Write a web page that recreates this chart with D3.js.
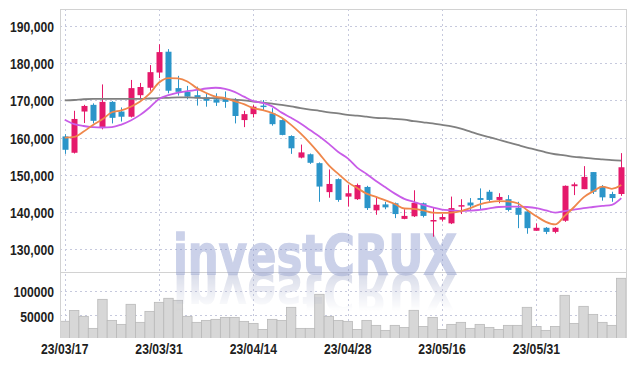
<!DOCTYPE html>
<html>
<head>
<meta charset="utf-8">
<script src="https://cdn.jsdelivr.net/npm/d3@7"></script>
<style>
  html, body { margin: 0; padding: 0; background: #fff; }
  .chart text { font-family: "Liberation Sans", Arial, sans-serif; }
</style>
</head>
<body>
<svg class="chart"></svg>
<script>
var dates = [
  "23/03/17","23/03/20","23/03/21","23/03/22","23/03/23","23/03/24","23/03/27","23/03/28","23/03/29","23/03/30",
  "23/03/31","23/04/03","23/04/04","23/04/05","23/04/06","23/04/07","23/04/10","23/04/11","23/04/12","23/04/13",
  "23/04/14","23/04/17","23/04/18","23/04/19","23/04/20","23/04/21","23/04/24","23/04/25","23/04/26","23/04/27",
  "23/04/28","23/05/02","23/05/03","23/05/04","23/05/08","23/05/09","23/05/10","23/05/11","23/05/12","23/05/15",
  "23/05/16","23/05/17","23/05/18","23/05/19","23/05/22","23/05/23","23/05/24","23/05/25","23/05/26","23/05/30",
  "23/05/31","23/06/01","23/06/02","23/06/05","23/06/07","23/06/08","23/06/09","23/06/12","23/06/13","23/06/14"
];
var opens = [
  160300,155900,167000,168800,162800,169600,167000,165600,171400,173400,
  177500,183100,173300,172300,171400,170800,170300,170300,170100,164700,
  166300,168600,166500,164700,160400,154600,155500,153100,145300,148800,
  144100,143400,146700,140400,142000,142300,138100,138800,142300,137400,
  137900,136900,141500,142500,143700,145400,143200,143400,141100,140100,
  134900,135700,134600,137600,146900,146100,150700,146800,144800,144800
];
var highs = [
  160900,167200,168800,169200,174300,169800,168100,175500,174700,179500,
  185100,183800,176600,173900,173700,171900,171900,172400,170600,167200,
  168800,170100,167900,164900,160600,158100,155700,153300,151400,149000,
  147200,147600,147000,144100,142700,142500,140700,145800,142500,141000,
  139400,144100,143400,143700,146300,145900,145000,144500,142700,140200,
  136900,135900,135900,147100,147900,152300,150700,147200,145400,155800
];
var lows = [
  155600,155700,163900,163800,162200,163800,164300,165400,170500,172600,
  176000,171900,171300,170300,168600,168300,168500,168000,163800,162800,
  165400,167400,163200,160600,155600,154400,152900,142700,143800,142700,
  141400,143200,140500,139200,140700,138300,138000,138600,138500,133300,
  137400,136700,139400,140500,140500,142700,142300,140100,135600,134100,
  134900,134000,134200,137300,144500,146100,144800,143000,142700,144300
];
var closes = [
  156700,165000,168500,164500,169600,165300,165600,173300,173600,177600,
  183000,172600,172300,171000,170600,169900,169400,169600,165800,166300,
  168300,168300,163600,160700,157100,156000,153200,146800,147500,143200,
  145000,147200,141000,141900,141200,139400,138900,142400,138900,137800,
  138600,141000,141800,141700,143200,143200,144000,140500,139200,135600,
  135700,134600,135700,147000,147400,149400,145400,143900,143700,152000
];
var volumes = [
  38000,60000,48000,23600,82500,39800,31700,72400,35800,58100,
  76400,84600,80500,48000,35800,39800,41900,45900,45900,37800,
  33700,21500,41900,39800,66300,23600,23600,92700,48000,39800,
  37800,21500,39800,29700,19500,29700,25600,60200,27600,45900,
  21500,31700,35800,23600,31700,25600,21500,29700,29700,66300,
  27600,19500,27600,90600,33700,68300,52000,35800,29700,125200
];
var ma5 = [
  160000,160200,161600,163400,164900,166800,167300,168300,169700,171800,
  174800,176000,175900,175100,173300,172000,171000,170600,169800,169000,
  167900,167400,166600,165300,163400,161100,158500,155600,152500,150200,
  148000,146400,144900,144000,143100,142100,140900,140800,140400,139800,
  139700,139800,140200,141000,142000,142600,142900,142800,142300,140500,
  138800,137300,136600,138900,141300,143900,145500,146800,146200,147200
];
var ma20 = [
  164800,163600,163100,162800,162700,162800,163500,164600,166100,168100,
  170400,171400,172100,172500,172800,173200,173400,173100,172300,171000,
  169800,169300,168400,166700,165300,163800,162000,160300,158300,156100,
  154400,151900,150200,148300,146600,144900,143500,142700,141900,141200,
  140600,140400,140200,140300,140500,140900,141300,141400,141400,141300,
  141000,140400,139800,140200,140600,141000,141300,141600,141900,143700
];
var ma60 = [
  170000,170100,170300,170400,170400,170400,170400,170400,170400,170500,
  170600,170700,170800,170800,170700,170600,170600,170400,170200,170000,
  169700,169400,169100,168800,168400,167900,167500,167200,166800,166500,
  166100,165900,165600,165300,165200,165000,164800,164400,164100,163800,
  163400,163000,162400,161600,160800,160100,159400,158700,158000,157300,
  156700,156000,155500,155200,154800,154600,154300,154100,153900,153800
];
var priceTicks = [130000, 140000, 150000, 160000, 170000, 180000, 190000];
var volTicks = [50000, 100000];
var dateTicks = ["23/03/17", "23/03/31", "23/04/14", "23/04/28", "23/05/16", "23/05/31"];

var W = 634, H = 366,
    plotL = 60, plotR = 626, plotT = 9, split = 272, plotB = 338;

var svg = d3.select(".chart").attr("width", W).attr("height", H);

var x = d3.scalePoint().domain(dates).range([plotL, plotR]).padding(0.5);
var step = x.step();
var y = d3.scaleLinear().domain([123800, 194600]).range([split, plotT]);
var yVol = d3.scaleLinear().domain([0, 140000]).range([340, 271]);

var upColor = "#e5196b", downColor = "#2b95c9";
var gridColor = "#c6c9dd";

var defs = svg.append("defs");
defs.append("clipPath").attr("id", "volClip")
    .append("rect").attr("x", plotL).attr("y", split).attr("width", plotR - plotL).attr("height", plotB - split);
var grad = defs.append("linearGradient").attr("id", "fade")
    .attr("x1", 0).attr("y1", 0).attr("x2", 0).attr("y2", 1);
grad.append("stop").attr("offset", "0%").attr("stop-color", "#fff").attr("stop-opacity", 0.85);
grad.append("stop").attr("offset", "100%").attr("stop-color", "#fff").attr("stop-opacity", 0);
defs.append("mask").attr("id", "fadeMask")
    .attr("maskUnits", "userSpaceOnUse")
    .attr("x", 0).attr("y", 272).attr("width", W).attr("height", 50)
    .append("rect").attr("x", 0).attr("y", 273).attr("width", W).attr("height", 38)
    .attr("fill", "url(#fade)");

// grid
var grid = svg.append("g");
grid.selectAll(".hg").data(priceTicks).enter().append("line")
    .attr("x1", plotL).attr("x2", plotR)
    .attr("y1", function (d) { return Math.round(y(d)) + 0.5; })
    .attr("y2", function (d) { return Math.round(y(d)) + 0.5; })
    .attr("stroke", gridColor).attr("stroke-dasharray", "2,3");
grid.selectAll(".vhg").data(volTicks).enter().append("line")
    .attr("x1", plotL).attr("x2", plotR)
    .attr("y1", function (d) { return Math.round(yVol(d)) + 0.5; })
    .attr("y2", function (d) { return Math.round(yVol(d)) + 0.5; })
    .attr("stroke", gridColor).attr("stroke-dasharray", "2,3");
grid.selectAll(".vg").data(dateTicks).enter().append("line")
    .attr("x1", function (d) { return Math.round(x(d)) + 0.5; })
    .attr("x2", function (d) { return Math.round(x(d)) + 0.5; })
    .attr("y1", plotT).attr("y2", plotB)
    .attr("stroke", gridColor).attr("stroke-dasharray", "2,3");

// volume bars
svg.append("g").attr("clip-path", "url(#volClip)")
    .selectAll("rect").data(volumes).enter().append("rect")
    .attr("x", function (d, i) { return x(dates[i]) - step / 2; })
    .attr("y", function (d) { return yVol(d); })
    .attr("width", step)
    .attr("height", function (d) { return yVol(0) - yVol(d); })
    .attr("fill", "#d7d7d7").attr("stroke", "#b9b9b9").attr("stroke-width", 0.8);

// frame
var frame = svg.append("g").attr("stroke", "#d2d2d2").attr("stroke-width", 1);
frame.append("line").attr("x1", plotL).attr("x2", plotR).attr("y1", plotT + 0.5).attr("y2", plotT + 0.5);
frame.append("line").attr("x1", plotL).attr("x2", plotR).attr("y1", split + 0.5).attr("y2", split + 0.5);
frame.append("line").attr("x1", plotL + 0.5).attr("x2", plotL + 0.5).attr("y1", plotT).attr("y2", plotB);
frame.append("line").attr("x1", plotR + 0.5).attr("x2", plotR + 0.5).attr("y1", plotT).attr("y2", plotB);

// watermark
var wm = svg.append("g");
wm.append("g").attr("opacity", 0.42)
    .append("text").text("investCRUX")
    .attr("x", 173).attr("y", 274)
    .attr("textLength", 284).attr("lengthAdjust", "spacingAndGlyphs")
    .style("font-family", "'DejaVu Sans', sans-serif").style("font-weight", "bold")
    .style("font-size", "56px")
    .attr("fill", "#8493cb")
    .attr("stroke", "#8493cb").attr("stroke-width", 1.5);
wm.append("g").attr("mask", "url(#fadeMask)")
    .append("text").text("investCRUX")
    .attr("transform", "translate(0,548) scale(1,-1)")
    .attr("x", 173).attr("y", 274)
    .attr("textLength", 284).attr("lengthAdjust", "spacingAndGlyphs")
    .style("font-family", "'DejaVu Sans', sans-serif").style("font-weight", "bold")
    .style("font-size", "56px")
    .attr("fill", "#a4abcc").attr("fill-opacity", 0.5);

// candles
var candles = svg.append("g").selectAll("g").data(dates).enter().append("g")
    .attr("stroke", function (d, i) { return closes[i] >= opens[i] ? upColor : downColor; })
    .attr("fill", function (d, i) { return closes[i] >= opens[i] ? upColor : downColor; });
candles.append("line")
    .attr("x1", function (d) { return Math.round(x(d)) + 0.5; })
    .attr("x2", function (d) { return Math.round(x(d)) + 0.5; })
    .attr("y1", function (d, i) { return y(highs[i]); })
    .attr("y2", function (d, i) { return y(lows[i]); });
candles.append("rect")
    .attr("stroke", "none")
    .attr("x", function (d) { return Math.round(x(d)) - 2.5; })
    .attr("width", 6)
    .attr("y", function (d, i) { return y(Math.max(opens[i], closes[i])); })
    .attr("height", function (d, i) {
        return Math.max(1.5, Math.abs(y(opens[i]) - y(closes[i])));
    });

// moving averages
var line = function (vals) {
    return d3.line()
        .x(function (d, i) { return x(dates[i]); })
        .y(function (d) { return y(d); })
        .curve(d3.curveMonotoneX)(vals);
};
[[ma60, "#808080"], [ma20, "#c85ce8"], [ma5, "#ef874b"]].forEach(function (s) {
    svg.append("path").attr("d", line(s[0]))
        .attr("fill", "none").attr("stroke", s[1]).attr("stroke-width", 1.8);
});

// labels (narrowed horizontally)
function label(g, data, px, py, anchor, txt) {
    g.selectAll("text").data(data).enter().append("text")
        .attr("transform", function (d) { return "translate(" + px(d) + "," + py(d) + ") scale(0.84,1)"; })
        .attr("text-anchor", anchor).attr("fill", "#1e1e1e")
        .style("font-size", "14.5px").style("font-weight", "bold")
        .text(txt);
}
var fmt = d3.format(",");
label(svg.append("g"), priceTicks, function () { return 54; },
      function (d) { return y(d) + 6; }, "end", function (d) { return fmt(d); });
label(svg.append("g"), volTicks, function () { return 54; },
      function (d) { return yVol(d) + 6.5; }, "end", function (d) { return d; });
label(svg.append("g"), dateTicks, function (d) { return x(d); },
      function () { return 354; }, "middle", function (d) { return d; });
</script>
</body>
</html>
